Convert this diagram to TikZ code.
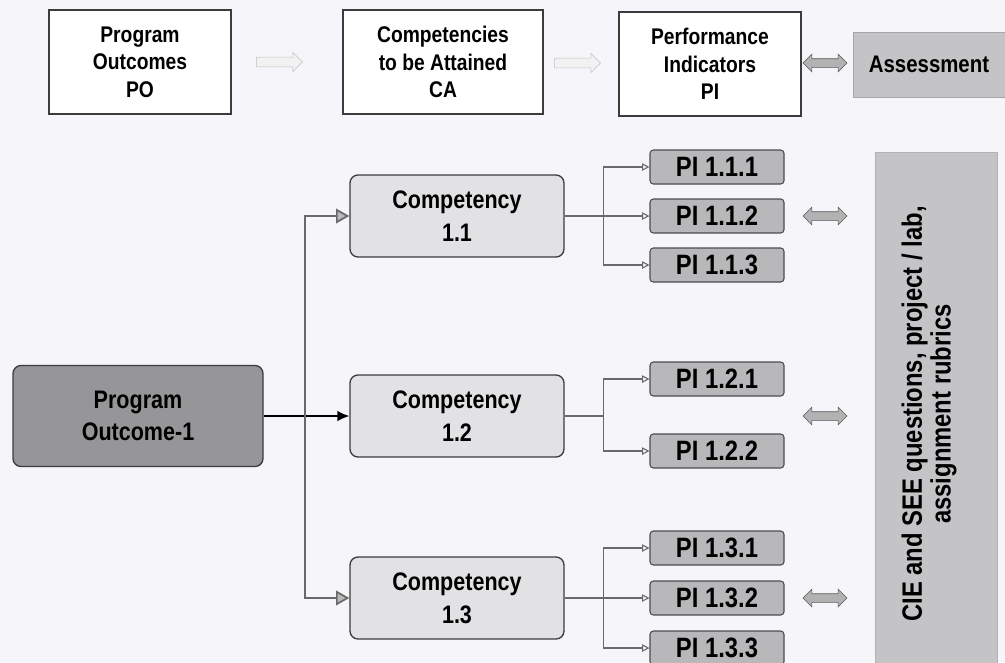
\documentclass[tikz,border=0pt]{standalone}
\usepackage{fontspec}
\setmainfont{Liberation Sans}[FakeStretch=0.85]
\usetikzlibrary{shapes.arrows, arrows.meta, positioning}

\definecolor{pagebg}{RGB}{246,246,250}
\definecolor{boxline}{RGB}{60,60,60}
\definecolor{pofill}{RGB}{150,150,152}
\definecolor{compfill}{RGB}{226,226,229}
\definecolor{pifill}{RGB}{184,184,187}
\definecolor{toolfill}{RGB}{196,196,199}
\definecolor{linkgray}{RGB}{105,105,105}

\tikzset{
  headbox/.style={draw=boxline, line width=1.1pt, fill=white, minimum width=136.5pt, minimum height=78pt,
    inner sep=0pt, align=center, font=\bfseries\fontsize{17}{20.6}\selectfont},
  flowarrow/.style={single arrow, draw=gray!50, fill=gray!10, minimum height=34.5pt, inner sep=3.5pt,
    single arrow head extend=3.5pt},
  linkarrow/.style={double arrow, draw=gray!70!black, fill=gray!60, minimum height=33pt, inner sep=3pt,
    double arrow head extend=3.5pt},
  outcome/.style={draw=boxline, line width=1pt, fill=pofill, rounded corners=6pt, minimum width=187.5pt,
    minimum height=75.75pt, align=center, font=\bfseries\fontsize{19}{24}\selectfont},
  compbox/.style={draw=boxline, line width=1pt, fill=compfill, rounded corners=6pt, minimum width=160.5pt,
    minimum height=61.5pt, align=center, font=\bfseries\fontsize{19}{25}\selectfont},
  pibox/.style={draw=gray!60!black, line width=0.8pt, fill=pifill, rounded corners=2.5pt, minimum width=100.5pt,
    minimum height=25.5pt, inner sep=0pt, font=\bfseries\fontsize{21}{24}\selectfont},
  polink/.style={-{Latex[length=9pt,width=8pt]}, line width=1.2pt, black},
  branch/.style={-{Triangle[length=10pt,width=11pt,fill=gray!55]}, draw=linkgray, line width=1.3pt},
  pilink/.style={-{Triangle[open,length=5.5pt,width=5.5pt]}, draw=linkgray, line width=0.8pt}
}

\begin{document}
\begin{tikzpicture}[x=0.75pt, y=-0.75pt]
\fill[pagebg] (0,0) rectangle (1005,662);
\useasboundingbox (0,0) rectangle (1005,662);

% top row
\node[headbox] (po) at (140,62) {Program\\Outcomes\\PO};
\node[headbox, minimum width=150pt] (ca) at (443,62) {Competencies\\to be Attained\\CA};
\node[headbox] (pi) at (710,64) {Performance\\Indicators\\PI};
\node[draw=gray!70, fill=toolfill, minimum width=114pt, minimum height=48.75pt,
  font=\bfseries\fontsize{18}{22}\selectfont] (assess) at (929,64.5) {Assessment};
\node[flowarrow] (poca) at (277,62) {};
\node[flowarrow] (capi) at (575,63) {};
\node[linkarrow] (piassess) at (825,63) {};

% outcome and competencies
\node[outcome] (po1) at (138,416) {Program\\Outcome-1};
\node[compbox] (c11) at (457,216) {Competency\\1.1};
\node[compbox] (c12) at (457,416) {Competency\\1.2};
\node[compbox] (c13) at (457,598) {Competency\\1.3};

% performance indicators
\node[pibox] (p111) at (717,167) {PI 1.1.1};
\node[pibox] (p112) at (717,216) {PI 1.1.2};
\node[pibox] (p113) at (717,265) {PI 1.1.3};
\node[pibox] (p121) at (717,379) {PI 1.2.1};
\node[pibox] (p122) at (717,451) {PI 1.2.2};
\node[pibox] (p131) at (717,548) {PI 1.3.1};
\node[pibox] (p132) at (717,598) {PI 1.3.2};
\node[pibox] (p133) at (717,648) {PI 1.3.3};

\node[linkarrow] (l11) at (825,216) {};
\node[linkarrow] (l12) at (825,416) {};
\node[linkarrow] (l13) at (825,598) {};

% assessment tools column
\node[draw=gray!60, fill=toolfill, minimum width=91.5pt, minimum height=384pt] (tools) at (936,408) {};
\node[rotate=90, align=center, font=\bfseries\fontsize{21}{21.5}\selectfont] (toolstext) at (929,414)
  {CIE and SEE questions, project / lab,\\assignment rubrics};

% connectors
\coordinate (split) at (305,416);
\draw[polink] (po1.east) -- (c12.west);
\draw[branch] (split) |- (c11.west);
\draw[branch] (split) |- (c13.west);

\draw[pilink] (c11.east) -- ++(39,0) |- (p111.west);
\draw[pilink] (c11.east) -- (p112.west);
\draw[pilink] (c11.east) -- ++(39,0) |- (p113.west);
\draw[pilink] (c12.east) -- ++(39,0) |- (p121.west);
\draw[pilink] (c12.east) -- ++(39,0) |- (p122.west);
\draw[pilink] (c13.east) -- ++(39,0) |- (p131.west);
\draw[pilink] (c13.east) -- (p132.west);
\draw[pilink] (c13.east) -- ++(39,0) |- (p133.west);
\end{tikzpicture}
\end{document}
